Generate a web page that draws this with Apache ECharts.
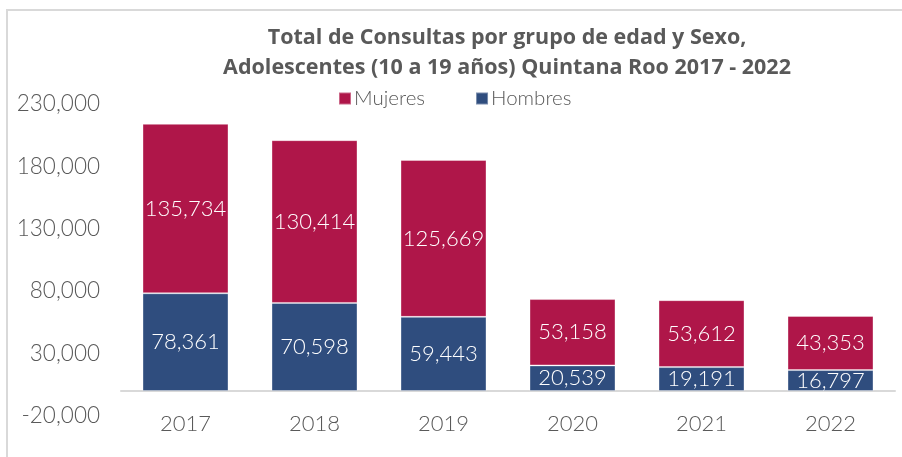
<!DOCTYPE html>
<html>
<head>
<meta charset="utf-8">
<script src="https://cdn.jsdelivr.net/npm/echarts@6/dist/echarts.min.js"></script>
<style>html,body{margin:0;padding:0;background:#fff}#c{width:902px;height:457px}</style>
</head>
<body>
<div id="c"></div>
<script>
const categories = ['2017', '2018', '2019', '2020', '2021', '2022'];
const hombres = [78361, 70598, 59443, 20539, 19191, 16797];
const mujeres = [135734, 130414, 125669, 53158, 53612, 43353];
const seriesNames = ['Mujeres', 'Hombres'];
const titleText = 'Total de Consultas por grupo de edad y Sexo,\nAdolescentes (10 a 19 años) Quintana Roo 2017 - 2022';

const FONT = 'Lato';
const fmt = v => v.toLocaleString('en-US');
const chart = echarts.init(document.getElementById('c'));
const labelStyle = {
  show: true, position: 'inside', color: '#ffffff', fontFamily: FONT,
  fontWeight: 300, fontSize: 22, formatter: p => fmt(p.value)
};
chart.setOption({
  animation: false,
  graphic: [{
    type: 'rect', shape: { x: 7, y: 10, width: 1200, height: 1200 },
    style: { fill: 'none', stroke: '#d9d9d9', lineWidth: 2 }, silent: true
  }],
  title: {
    text: titleText, left: 502, top: 18, textAlign: 'center',
    textStyle: { fontFamily: 'Open Sans', fontWeight: 'bold', fontSize: 21.5, color: '#595959', lineHeight: 30 }
  },
  legend: {
    data: seriesNames, left: 333, top: 83, icon: 'rect', itemWidth: 12, itemHeight: 12, itemGap: 50,
    textStyle: { fontFamily: FONT, fontWeight: 300, fontSize: 20.5, color: '#595959', padding: [0, 0, 0, -2] }
  },
  grid: { left: 121, right: 7, top: 104, bottom: 41, containLabel: false },
  xAxis: {
    type: 'category', data: categories,
    axisLine: { show: true, onZero: true, lineStyle: { color: '#d9d9d9', width: 2 } },
    axisTick: { show: false },
    axisLabel: { margin: -3, fontFamily: FONT, fontWeight: 300, fontSize: 22, color: '#595959' }
  },
  yAxis: {
    type: 'value', min: -20000, max: 230000, interval: 50000,
    axisLine: { show: false }, axisTick: { show: false }, splitLine: { show: false },
    axisLabel: { margin: 21, fontFamily: FONT, fontWeight: 300, fontSize: 22.5, color: '#595959', formatter: v => fmt(v) }
  },
  series: [
    {
      name: 'Hombres', type: 'bar', stack: 't', data: hombres, barWidth: 86,
      itemStyle: { color: '#2f4d7e', borderColor: 'rgba(255,255,255,0.35)', borderWidth: 1 },
      label: labelStyle
    },
    {
      name: 'Mujeres', type: 'bar', stack: 't', data: mujeres, barWidth: 86,
      itemStyle: { color: '#af1649', borderColor: 'rgba(255,255,255,0.35)', borderWidth: 1 },
      label: labelStyle
    }
  ]
});
</script>
</body>
</html>
